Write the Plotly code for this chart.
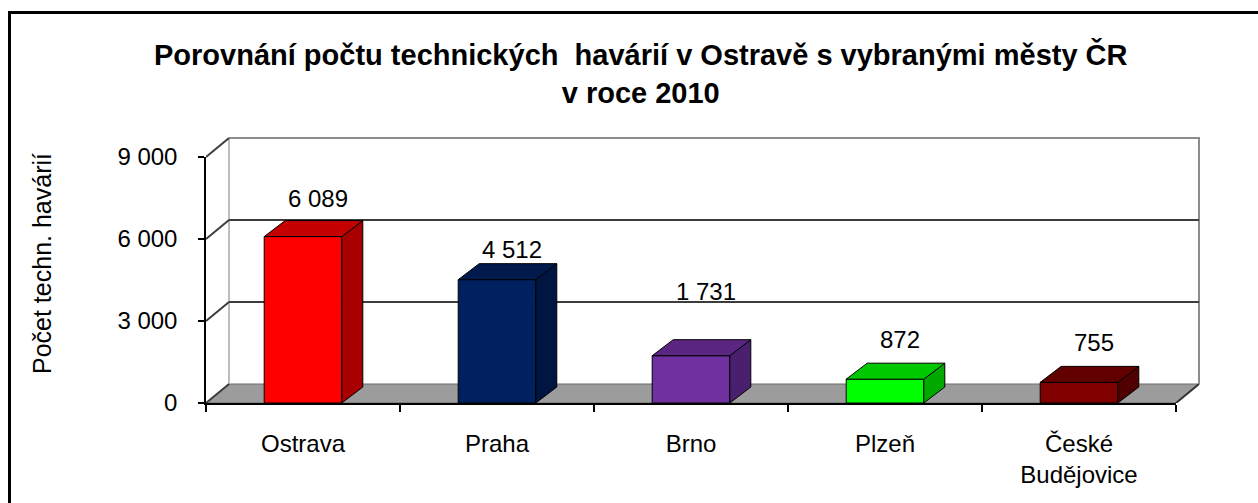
import plotly.graph_objects as go

# ---- data -------------------------------------------------------------
categories = ["Ostrava", "Praha", "Brno", "Plzeň", "České<br>Budějovice"]
values = [6089, 4512, 1731, 872, 755]
y_ticks = [0, 3000, 6000, 9000]
y_tick_labels = ["0", "3 000", "6 000", "9 000"]

title_text = ("Porovnání počtu technických  havárií v Ostravě s vybranými městy ČR"
              "<br>v roce 2010")
y_title = "Počet techn. havárií"

# ---- styles -----------------------------------------------------------
front_colors = ["#FF0000", "#002060", "#7030A0", "#00FF00", "#800000"]
side_colors = ["#A80000", "#001540", "#4A1F6E", "#00A800", "#500000"]
top_colors = ["#C40000", "#001A4E", "#5A2682", "#00C800", "#620000"]
label_lift_px = [38, 30, 64, 40, 40]   # value label height above the bar front
label_shift_px = 15                   # value label sideways shift

FONT = "Liberation Sans, Arial, sans-serif"
TEXT_SIZE = 24
W, H = 1258, 503

# pixel frame of the front axes (value 0 .. 9000, categories -0.5 .. n-0.5)
AX_LEFT, AX_RIGHT = 206, 1176
AX_BOTTOM, AX_TOP = 403, 157
BACK_RIGHT, BACK_TOP = 1215, 118
Y_MAX = 9000

n = len(categories)
px_per_cat = (AX_RIGHT - AX_LEFT) / n
px_per_val = (AX_BOTTOM - AX_TOP) / Y_MAX


def fx(px):
    return px / W


def fy(py):
    return (H - py) / H


# 3D depth offsets, converted from pixels to data units
wall_dx, wall_dy = 23 / px_per_cat, 19 / px_per_val
bar_dx, bar_dy = 21 / px_per_cat, 16 / px_per_val
half_w = 0.2

x_lo, x_hi = -0.5, n - 0.5

fig = go.Figure()

# ---- back wall, side wall and floor (subplot x/y) ---------------------
floor_x = [x_lo, x_hi, x_hi + wall_dx, x_lo + wall_dx, x_lo]
floor_y = [0, 0, wall_dy, wall_dy, 0]
fig.add_trace(go.Scatter(x=floor_x, y=floor_y, mode="lines", fill="toself",
                         fillcolor="#9C9C9C", line=dict(color="#6A6A6A", width=1),
                         hoverinfo="skip", xaxis="x", yaxis="y"))
# right slanted edge of the floor
fig.add_trace(go.Scatter(x=[x_hi, x_hi + wall_dx], y=[0, wall_dy], mode="lines",
                         line=dict(color="#333333", width=2),
                         hoverinfo="skip", xaxis="x", yaxis="y"))

# back wall outline
fig.add_trace(go.Scatter(x=[x_lo + wall_dx, x_lo + wall_dx], y=[wall_dy, Y_MAX + wall_dy],
                         mode="lines", line=dict(color="#BDBDBD", width=2),
                         hoverinfo="skip", xaxis="x", yaxis="y"))
fig.add_trace(go.Scatter(x=[x_lo + wall_dx, x_hi + wall_dx, x_hi + wall_dx],
                         y=[Y_MAX + wall_dy, Y_MAX + wall_dy, wall_dy],
                         mode="lines", line=dict(color="#8C8C8C", width=2),
                         hoverinfo="skip", xaxis="x", yaxis="y"))

# gridlines: slanted on the side wall, horizontal on the back wall
gx, gy = [], []
for v in y_ticks:
    gx += [x_lo, x_lo + wall_dx, None]
    gy += [v, v + wall_dy, None]
    if 0 < v < Y_MAX:
        gx += [x_lo + wall_dx, x_hi + wall_dx, None]
        gy += [v + wall_dy, v + wall_dy, None]
fig.add_trace(go.Scatter(x=gx, y=gy, mode="lines", line=dict(color="#3C3C3C", width=2),
                         hoverinfo="skip", xaxis="x", yaxis="y"))

# ---- bars (subplot x2/y2) ---------------------------------------------
fig.add_trace(go.Bar(x=list(range(n)), y=values, width=2 * half_w,
                     marker=dict(color=front_colors, line=dict(color="black", width=1)),
                     hoverinfo="skip", xaxis="x2", yaxis="y2"))

for i, v in enumerate(values):
    l, r = i - half_w, i + half_w
    # right side face
    fig.add_trace(go.Scatter(x=[r, r + bar_dx, r + bar_dx, r, r],
                             y=[0, bar_dy, v + bar_dy, v, 0],
                             mode="lines", fill="toself", fillcolor=side_colors[i],
                             line=dict(color="black", width=1),
                             hoverinfo="skip", xaxis="x2", yaxis="y2"))
    # top face
    fig.add_trace(go.Scatter(x=[l, r, r + bar_dx, l + bar_dx, l],
                             y=[v, v, v + bar_dy, v + bar_dy, v],
                             mode="lines", fill="toself", fillcolor=top_colors[i],
                             line=dict(color="black", width=1),
                             hoverinfo="skip", xaxis="x2", yaxis="y2"))
    fig.add_annotation(x=i, y=v, xref="x2", yref="y2",
                       text=f"{v:,}".replace(",", " "), showarrow=False,
                       xshift=label_shift_px, yshift=label_lift_px[i],
                       font=dict(family=FONT, size=TEXT_SIZE, color="black"))

# ---- layout -----------------------------------------------------------
fig.update_layout(
    width=W, height=H,
    margin=dict(l=0, r=0, t=0, b=0, pad=0, autoexpand=False),
    paper_bgcolor="white", plot_bgcolor="rgba(0,0,0,0)",
    showlegend=False,
    font=dict(family=FONT, size=TEXT_SIZE, color="black"),
    xaxis=dict(domain=[fx(AX_LEFT), fx(BACK_RIGHT)],
               range=[x_lo, x_lo + (BACK_RIGHT - AX_LEFT) / px_per_cat],
               visible=False, fixedrange=True, automargin=False),
    yaxis=dict(domain=[fy(AX_BOTTOM), fy(BACK_TOP)],
               range=[0, (AX_BOTTOM - BACK_TOP) / px_per_val],
               visible=False, fixedrange=True, automargin=False),
    xaxis2=dict(domain=[fx(AX_LEFT), fx(AX_RIGHT)], range=[x_lo, x_hi], anchor="y2",
                tickmode="array", tickvals=list(range(n)), ticktext=categories,
                ticks="", showgrid=False, zeroline=False,
                showline=True, linecolor="black", linewidth=1.5,
                minor=dict(tickmode="array", tickvals=[i - 0.5 for i in range(n + 1)],
                           ticks="outside", ticklen=7, tickwidth=1.5, tickcolor="black",
                           showgrid=False),
                tickfont=dict(family=FONT, size=24), ticklabelstandoff=18,
                fixedrange=True, automargin=False),
    yaxis2=dict(domain=[fy(AX_BOTTOM), fy(AX_TOP)], range=[0, Y_MAX], anchor="x2",
                tickmode="array", tickvals=y_ticks, ticktext=y_tick_labels,
                ticks="outside", ticklen=6, tickwidth=1.5, tickcolor="black",
                showgrid=False, zeroline=False,
                showline=True, linecolor="black", linewidth=1.5,
                tickfont=dict(family=FONT, size=TEXT_SIZE), ticklabelstandoff=16,
                fixedrange=True, automargin=False),
)

# title and axis title
fig.add_annotation(x=fx(641), y=fy(73.5), xref="paper", yref="paper",
                   text=title_text, showarrow=False, xanchor="center", yanchor="middle",
                   font=dict(family=FONT, size=29, color="black", weight="bold"))
fig.add_annotation(x=fx(42), y=fy(264), xref="paper", yref="paper",
                   text=y_title, showarrow=False, textangle=-90,
                   xanchor="center", yanchor="middle",
                   font=dict(family=FONT, size=25, color="black"))

# chart frame
fig.add_shape(type="rect", xref="paper", yref="paper",
              x0=fx(9.5), y0=-0.2, x1=1.2, y1=fy(12.5),
              line=dict(color="black", width=3), fillcolor="rgba(0,0,0,0)")

fig.write_html("out.html")
